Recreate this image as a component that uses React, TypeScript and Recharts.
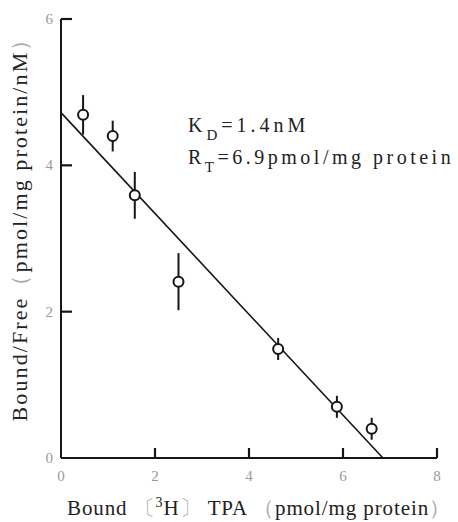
import React from 'react';
import { ComposedChart, Scatter, XAxis, YAxis, ErrorBar } from 'recharts';

const boundX = [0.47, 1.1, 1.57, 2.5, 4.62, 5.87, 6.61];
const boundFreeY = [4.69, 4.4, 3.59, 2.41, 1.49, 0.7, 0.4];
const errY = [0.27, 0.21, 0.32, 0.39, 0.15, 0.15, 0.15];
const fitX = [0, 6.85];
const fitY = [4.72, 0];
const xTicks = [0, 2, 4, 6, 8];
const yTicks = [0, 2, 4, 6];

const points = boundX.map((x, i) => ({ x, y: boundFreeY[i], err: errY[i] }));
const fitLine = fitX.map((x, i) => ({ x, y: fitY[i] }));
const xTickMarks = xTicks.filter((t) => t > 0).map((t) => ({ x: t, y: 0 }));
const yTickMarks = yTicks.filter((t) => t > 0).map((t) => ({ x: 0, y: t }));

const FONT = 'Liberation Serif, DejaVu Serif, serif';
const INK = '#151515';
const TICK_GRAY = '#9a9a9a';

const XTick = (props: any) => {
  const { x, y, payload } = props;
  return (
    <text x={Number(x)} y={Number(y)} textAnchor="middle" fontSize={15} fill={TICK_GRAY} fontFamily={FONT}>
      {payload.value}
    </text>
  );
};

const YTick = (props: any) => {
  const { x, y, payload } = props;
  return (
    <text x={Number(x)} y={Number(y) + 5} textAnchor="end" fontSize={15} fill={TICK_GRAY} fontFamily={FONT}>
      {payload.value}
    </text>
  );
};

const Dot = (props: any) => (
  <circle cx={props.cx} cy={props.cy} r={5} fill="#fff" stroke={INK} strokeWidth={2} />
);

const XTickMark = (props: any) => (
  <path d={`M${props.cx},${props.cy}V${props.cy - 10}`} stroke={INK} strokeWidth={2.2} fill="none" />
);

const YTickMark = (props: any) => (
  <path d={`M${props.cx},${props.cy}H${props.cx + 11}`} stroke={INK} strokeWidth={2.2} fill="none" />
);

const NoShape = () => <g />;

const XLabel = (props: any) => {
  const vb = props.viewBox || {};
  const cx = vb.x + vb.width / 2 + 10;
  return (
    <text x={cx} y={vb.y + 57} textAnchor="middle" fontSize={21} fill="#222" fontFamily={FONT} letterSpacing={0.9}>
      <tspan>Bound </tspan>
      <tspan fill="#aaa">〔</tspan>
      <tspan dy={-8} fontSize={14}>3</tspan>
      <tspan dy={8}>H</tspan>
      <tspan fill="#aaa">〕</tspan>
      <tspan> TPA </tspan>
      <tspan fill="#aaa">（</tspan>
      <tspan>pmol/mg protein</tspan>
      <tspan fill="#aaa">）</tspan>
    </text>
  );
};

const YLabel = () => {
  const cx = 27;
  const cy = 224;
  return (
    <text
      x={cx}
      y={cy}
      transform={`rotate(-90 ${cx} ${cy})`}
      textAnchor="middle"
      fontSize={22}
      fill="#222"
      fontFamily={FONT}
      letterSpacing={2.1}
    >
      <tspan>Bound/Free</tspan>
      <tspan fill="#aaa">（</tspan>
      <tspan>pmol/mg protein/nM</tspan>
      <tspan fill="#aaa">）</tspan>
    </text>
  );
};

export default function App() {
  return (
    <div style={{ position: 'absolute', left: 0, top: 0, width: 458, height: 522, background: '#fff' }}>
      <ComposedChart width={458} height={522} margin={{ top: 19, right: 21, bottom: 0, left: 0 }}>
        <XAxis
          dataKey="x"
          type="number"
          domain={[0, 8]}
          ticks={xTicks}
          interval={0}
          height={64}
          tickSize={0}
          tickMargin={23}
          tickLine={false}
          tick={<XTick />}
          axisLine={{ stroke: INK, strokeWidth: 2 }}
          label={<XLabel />}
        />
        <YAxis
          dataKey="y"
          type="number"
          domain={[0, 6]}
          ticks={yTicks}
          interval={0}
          width={61}
          tickSize={0}
          tickMargin={8}
          tickLine={false}
          tick={<YTick />}
          axisLine={{ stroke: INK, strokeWidth: 2 }}
          label={<YLabel />}
        />
        <Scatter data={xTickMarks} shape={XTickMark} isAnimationActive={false} />
        <Scatter data={yTickMarks} shape={YTickMark} isAnimationActive={false} />
        <Scatter
          data={fitLine}
          line={{ stroke: INK, strokeWidth: 1.6 }}
          shape={NoShape}
          isAnimationActive={false}
        />
        <Scatter data={points} shape={Dot} isAnimationActive={false}>
          <ErrorBar dataKey="err" direction="y" width={0} stroke={INK} strokeWidth={2} isAnimationActive={false} />
        </Scatter>
      </ComposedChart>
      <svg width={458} height={522} style={{ position: 'absolute', left: 0, top: 0, pointerEvents: 'none' }}>
        <text x={188} y={132} fontSize={20} fill="#222" fontFamily={FONT} letterSpacing={4}>
          <tspan>K</tspan>
          <tspan dy={8} fontSize={15}>D</tspan>
          <tspan dy={-8}>=1.4nM</tspan>
        </text>
        <text x={188} y={164} fontSize={20} fill="#222" fontFamily={FONT} letterSpacing={3.5}>
          <tspan>R</tspan>
          <tspan dy={8} fontSize={15}>T</tspan>
          <tspan dy={-8}>=6.9pmol/mg protein</tspan>
        </text>
      </svg>
    </div>
  );
}
